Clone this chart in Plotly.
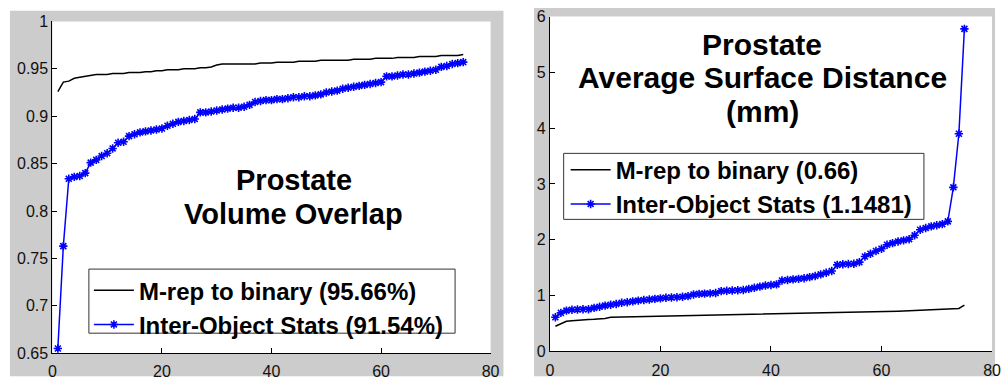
import plotly.graph_objects as go

# ---------------- data ----------------
x_idx = list(range(1, 76))

vo_mrep = [0.926, 0.936, 0.937, 0.940, 0.941, 0.942, 0.943, 0.944, 0.944, 0.944,
           0.945, 0.945, 0.945, 0.946, 0.946, 0.946, 0.947, 0.947, 0.948, 0.948,
           0.949, 0.949, 0.949, 0.950, 0.950, 0.950, 0.951, 0.951, 0.952, 0.954,
           0.955, 0.955, 0.955, 0.955, 0.955, 0.955, 0.955, 0.956, 0.956, 0.956,
           0.957, 0.957, 0.957, 0.957, 0.958, 0.958, 0.958, 0.958, 0.959, 0.959,
           0.959, 0.959, 0.959, 0.959, 0.960, 0.960, 0.960, 0.960, 0.961, 0.961,
           0.961, 0.961, 0.962, 0.962, 0.962, 0.962, 0.963, 0.963, 0.963, 0.963,
           0.964, 0.964, 0.964, 0.964, 0.965]

vo_ios = [0.655, 0.763, 0.834, 0.836, 0.837, 0.840, 0.851, 0.854, 0.858, 0.861,
          0.866, 0.872, 0.873, 0.879, 0.881, 0.883, 0.884, 0.885, 0.886, 0.887,
          0.890, 0.892, 0.894, 0.895, 0.896, 0.897, 0.904, 0.904, 0.905, 0.906,
          0.907, 0.908, 0.909, 0.909, 0.910, 0.912, 0.915, 0.916, 0.917, 0.917,
          0.918, 0.918, 0.919, 0.920, 0.920, 0.921, 0.921, 0.922, 0.923, 0.925,
          0.926, 0.927, 0.929, 0.930, 0.931, 0.932, 0.933, 0.934, 0.935, 0.936,
          0.942, 0.942, 0.943, 0.944, 0.944, 0.945, 0.946, 0.947, 0.948, 0.949,
          0.952, 0.953, 0.955, 0.956, 0.957]

asd_mrep = [0.45, 0.50, 0.54, 0.55, 0.56, 0.565, 0.57, 0.575, 0.58, 0.59,
            0.61, 0.612, 0.614, 0.615, 0.616, 0.617, 0.618, 0.619, 0.62, 0.622,
            0.625, 0.628, 0.63, 0.632, 0.635, 0.638, 0.64, 0.64, 0.641, 0.642,
            0.655, 0.656, 0.657, 0.658, 0.659, 0.66, 0.662, 0.664, 0.666, 0.668,
            0.67, 0.672, 0.674, 0.675, 0.677, 0.679, 0.68, 0.683, 0.685, 0.688,
            0.69, 0.692, 0.695, 0.697, 0.70, 0.702, 0.704, 0.706, 0.708, 0.711,
            0.714, 0.717, 0.72, 0.724, 0.728, 0.732, 0.736, 0.74, 0.744, 0.748,
            0.752, 0.756, 0.762, 0.77, 0.83]

asd_ios = [0.61, 0.69, 0.73, 0.745, 0.75, 0.755, 0.755, 0.78, 0.80, 0.82,
           0.835, 0.85, 0.87, 0.88, 0.895, 0.91, 0.92, 0.93, 0.94, 0.95,
           0.96, 0.965, 0.97, 0.98, 0.99, 1.02, 1.03, 1.035, 1.04, 1.045,
           1.08, 1.085, 1.09, 1.095, 1.10, 1.12, 1.14, 1.16, 1.18, 1.19,
           1.20, 1.27, 1.28, 1.29, 1.30, 1.31, 1.33, 1.35, 1.38, 1.41,
           1.44, 1.55, 1.56, 1.565, 1.57, 1.60, 1.70, 1.75, 1.80, 1.84,
           1.91, 1.94, 1.97, 1.99, 2.01, 2.08, 2.18, 2.21, 2.24, 2.26,
           2.28, 2.33, 2.94, 3.90, 5.78]

names_left = ["M-rep to binary (95.66%)", "Inter-Object Stats (91.54%)"]
names_right = ["M-rep to binary (0.66)", "Inter-Object Stats (1.1481)"]

left_title = ["Prostate", "Volume Overlap"]
right_title = ["Prostate", "Average Surface Distance", "(mm)"]

left_yticks = [0.65, 0.7, 0.75, 0.8, 0.85, 0.9, 0.95, 1]
left_yticktext = ["0.65", "0.7", "0.75", "0.8", "0.85", "0.9", "0.95", "1"]
right_yticks = [0, 1, 2, 3, 4, 5, 6]
x_ticks = [0, 20, 40, 60, 80]

# ---------------- layout helpers ----------------
W, H = 1004, 390
def px(v):
    return v / W
def py(v):
    return 1 - v / H

FONT = "Liberation Sans, Arial, sans-serif"
BLUE = "#0000ff"
GRAY = "#cccccc"

fig = go.Figure()

for (xa, ya, leg, ym, yi, names) in [
    ("x", "y", "legend", vo_mrep, vo_ios, names_left),
    ("x2", "y2", "legend2", asd_mrep, asd_ios, names_right),
]:
    fig.add_trace(go.Scatter(
        x=x_idx, y=ym, mode="lines", name=names[0],
        line=dict(color="black", width=1.5),
        xaxis=xa, yaxis=ya, legend=leg))
    fig.add_trace(go.Scatter(
        x=x_idx, y=yi, mode="lines+markers", name=names[1],
        line=dict(color=BLUE, width=1.5),
        marker=dict(symbol="asterisk-open", size=7,
                    line=dict(color=BLUE, width=1.6), color=BLUE),
        xaxis=xa, yaxis=ya, legend=leg))

axis_common = dict(showgrid=False, zeroline=False, showline=True,
                   linecolor="black", linewidth=1, ticks="inside",
                   ticklen=5, tickcolor="black", mirror=False,
                   tickfont=dict(family=FONT, size=16, color="#111"))

leg_common = dict(xanchor="left", yanchor="top",
                  bgcolor="rgba(0,0,0,0)", borderwidth=0,
                  itemwidth=40, tracegroupgap=0,
                  font=dict(family=FONT, size=24, color="black", weight=700))

fig.update_layout(
    width=W, height=H,
    margin=dict(l=0, r=0, t=0, b=0),
    paper_bgcolor="white",
    plot_bgcolor="rgba(0,0,0,0)",
    xaxis=dict(domain=[px(49), px(493)], range=[0, 80], tickvals=x_ticks,
               anchor="y", ticklabelstandoff=4, **axis_common),
    yaxis=dict(domain=[py(361), py(14)], range=[0.65, 1],
               tickvals=left_yticks, ticktext=left_yticktext,
               anchor="x", **axis_common),
    xaxis2=dict(domain=[px(553), px(1001)], range=[0, 80], tickvals=x_ticks,
                anchor="y2", ticklabelstandoff=4, **axis_common),
    yaxis2=dict(domain=[py(359), py(9)], range=[0, 6],
                tickvals=right_yticks, anchor="x2", **axis_common),
    legend=dict(x=px(86), y=py(272), **leg_common),
    legend2=dict(x=px(569), y=py(146), **leg_common),
    showlegend=True,
)

# gray figure panels, white axes backgrounds, legend boxes
def rect(x0, x1, y0, y1, fill, lw=0, lc="black"):
    return dict(type="rect", xref="paper", yref="paper",
                x0=px(x0), x1=px(x1), y0=py(y1), y1=py(y0),
                fillcolor=fill, line=dict(width=lw, color=lc), layer="below")

shapes = [
    rect(6, 506, 3, 385, GRAY),
    rect(537, 1004, 0, 385, GRAY),
    rect(49, 493, 14, 361, "white"),
    rect(553, 1001, 9, 359, "white"),
    rect(86, 457, 273, 340, "white", 1, "#333"),
    rect(567, 932, 152, 221, "white", 1, "#333"),
]
fig.update_layout(shapes=shapes)

annots = []
for txt, cx, cy, fs in [(left_title[0], 294, 180, 29), (left_title[1], 293, 215, 29),
                        (right_title[0], 768, 38, 30), (right_title[1], 768, 73, 30),
                        (right_title[2], 768, 108, 30)]:
    annots.append(dict(text=txt, xref="paper", yref="paper", x=px(cx), y=py(cy),
                       xanchor="center", yanchor="middle", showarrow=False,
                       font=dict(family=FONT, size=fs, color="black", weight=700)))
fig.update_layout(annotations=annots)

fig.write_html("out.html")
